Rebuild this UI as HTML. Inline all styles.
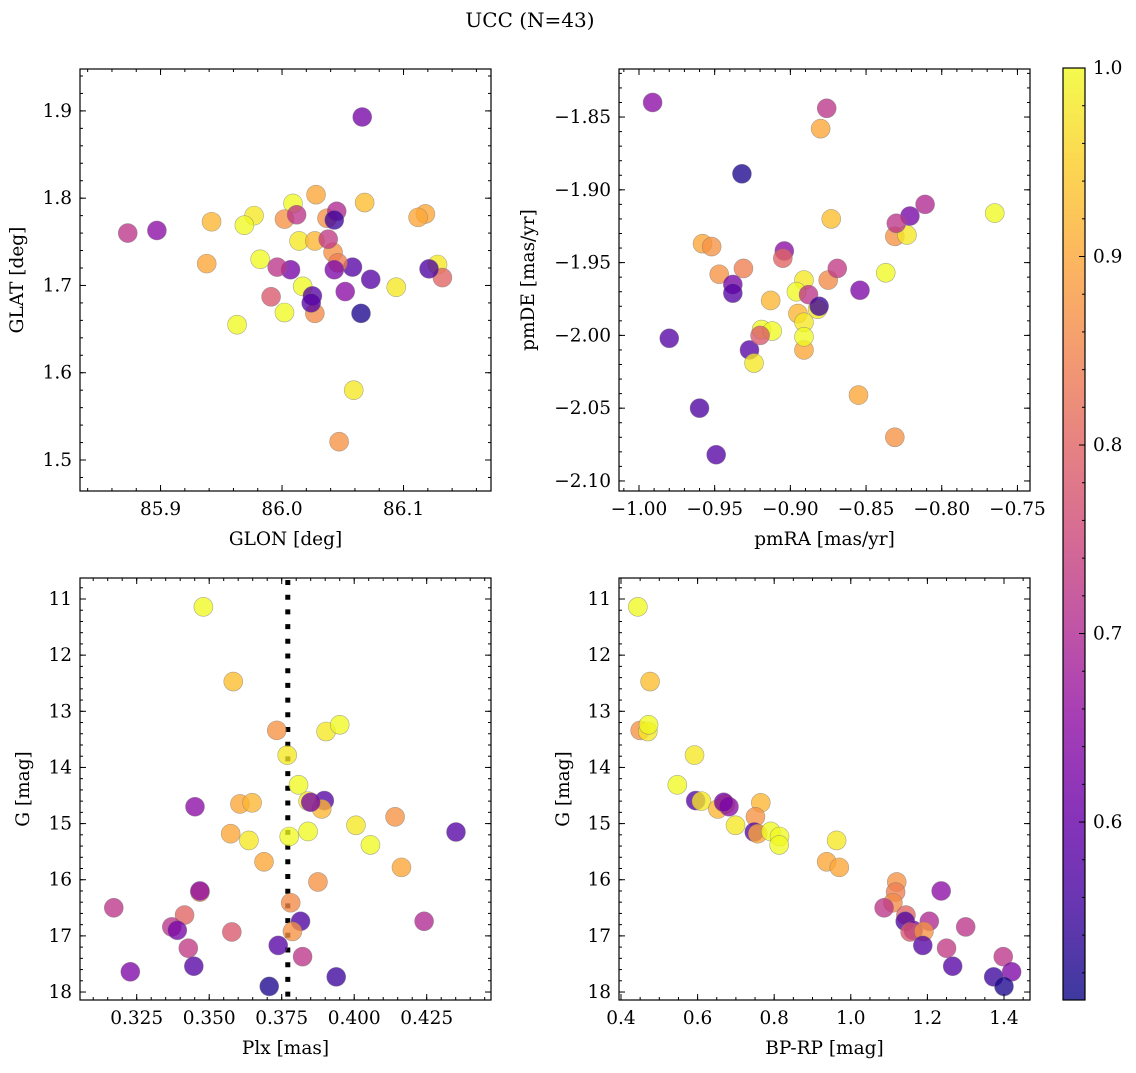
<!DOCTYPE html>
<html><head><meta charset="utf-8"><style>
html,body{margin:0;padding:0;background:#fff;}
svg text{font-family:"DejaVu Serif","Liberation Serif",serif;fill:#000;}
</style></head><body>
<svg id="fig" width="1136" height="1068" viewBox="0 0 1136 1068" xmlns="http://www.w3.org/2000/svg">
<defs>
<linearGradient id="plasma" x1="0" y1="1" x2="0" y2="0">
<stop offset="0" stop-color="#0d0887"/><stop offset="0.1" stop-color="#41049d"/><stop offset="0.2" stop-color="#6a00a8"/><stop offset="0.3" stop-color="#8f0da4"/><stop offset="0.4" stop-color="#b12a90"/><stop offset="0.5" stop-color="#cc4778"/><stop offset="0.6" stop-color="#e16462"/><stop offset="0.7" stop-color="#f2844b"/><stop offset="0.8" stop-color="#fca636"/><stop offset="0.9" stop-color="#fcce25"/><stop offset="1" stop-color="#f0f921"/>
</linearGradient>
</defs>
<text x="530" y="27" font-size="20" text-anchor="middle">UCC (N=43)</text>
</svg>
<script>
const glon=[86.009,86.068,86.002,85.977,85.969,86.014,85.982,86.058,86.128,86.118,85.942,86.027,86.052,86.066,86.037,86.094,86.073,85.938,86.017,86.002,85.963,86.059,86.028,86.112,86.042,86.046,85.897,86.027,86.012,86.132,86.121,86.045,85.873,86.007,85.991,86.047,86.025,86.038,85.996,86.024,86.043,86.043,86.065];
const glat=[1.794,1.795,1.776,1.780,1.769,1.751,1.730,1.721,1.724,1.782,1.773,1.751,1.693,1.893,1.777,1.698,1.707,1.725,1.699,1.669,1.655,1.580,1.804,1.778,1.738,1.726,1.763,1.668,1.781,1.709,1.719,1.785,1.760,1.718,1.687,1.521,1.688,1.753,1.721,1.680,1.718,1.775,1.668];
const pmra=[-0.765,-0.873,-0.831,-0.823,-0.837,-0.891,-0.896,-0.980,-0.882,-0.958,-0.913,-0.895,-0.991,-0.821,-0.952,-0.891,-0.927,-0.891,-0.919,-0.912,-0.891,-0.924,-0.855,-0.880,-0.947,-0.931,-0.904,-0.875,-0.876,-0.905,-0.960,-0.811,-0.830,-0.938,-0.920,-0.831,-0.949,-0.869,-0.888,-0.938,-0.854,-0.881,-0.932];
const pmde=[-1.916,-1.920,-1.932,-1.931,-1.957,-1.962,-1.970,-2.002,-1.982,-1.937,-1.976,-1.985,-1.840,-1.918,-1.939,-1.991,-2.010,-2.010,-1.996,-1.997,-2.001,-2.019,-2.041,-1.858,-1.958,-1.954,-1.942,-1.962,-1.844,-1.947,-2.050,-1.910,-1.923,-1.965,-2.000,-2.070,-2.082,-1.954,-1.972,-1.971,-1.969,-1.980,-1.889];
const plx=[0.3480,0.3583,0.3733,0.3903,0.3950,0.3769,0.3808,0.3897,0.3841,0.3606,0.3888,0.3648,0.3451,0.3850,0.4141,0.4006,0.4351,0.3574,0.3841,0.3776,0.4056,0.3637,0.3689,0.4163,0.3875,0.3468,0.3468,0.3781,0.3171,0.3415,0.3815,0.4241,0.3371,0.3390,0.3578,0.3787,0.3738,0.3428,0.3822,0.3447,0.3228,0.3938,0.3707];
const gmag=[11.14,12.47,13.34,13.36,13.24,13.78,14.31,14.59,14.60,14.65,14.74,14.63,14.70,14.62,14.88,15.03,15.15,15.18,15.14,15.23,15.38,15.30,15.68,15.78,16.04,16.22,16.20,16.41,16.50,16.63,16.74,16.74,16.84,16.90,16.93,16.92,17.17,17.22,17.37,17.54,17.64,17.73,17.90];
const bprp=[0.444,0.476,0.450,0.470,0.472,0.592,0.547,0.595,0.610,0.672,0.653,0.765,0.682,0.668,0.751,0.699,0.748,0.757,0.791,0.814,0.813,0.963,0.937,0.970,1.120,1.117,1.236,1.110,1.087,1.144,1.142,1.205,1.300,1.163,1.155,1.191,1.188,1.250,1.398,1.266,1.420,1.373,1.400];
const prob=[1.0,0.93,0.87,0.98,1.0,0.98,1.0,0.58,0.98,0.9,0.92,0.92,0.65,0.62,0.87,0.98,0.58,0.9,1.0,1.0,1.0,0.98,0.9,0.9,0.87,0.84,0.65,0.86,0.72,0.8,0.57,0.7,0.72,0.62,0.78,0.87,0.58,0.73,0.72,0.58,0.63,0.55,0.52];
const plxLine=[0.3771];
const cbTicks=[0.6,0.7,0.8,0.9,1.0];
const cbLabels=["0.6","0.7","0.8","0.9","1.0"];

const NS="http://www.w3.org/2000/svg";
const svg=document.getElementById('fig');
const FS=18.5;
function mk(tag,attrs,parent){const e=document.createElementNS(NS,tag);for(const k in attrs)e.setAttribute(k,attrs[k]);(parent||svg).appendChild(e);return e;}
const stops=[[13,8,135],[65,4,157],[106,0,168],[143,13,164],[177,42,144],[204,71,120],[225,100,98],[242,132,75],[252,166,54],[252,206,37],[240,249,33]];
const vmin=0.5056,vmax=1.0;
function plasma(v){let t=(v-vmin)/(vmax-vmin);t=Math.max(0,Math.min(1,t))*10;const i=Math.min(9,Math.floor(t)),f=t-i;const a=stops[i],b=stops[i+1];return `rgb(${a.map((c,j)=>Math.round(c+(b[j]-c)*f)).join(',')})`;}

function panel(cfg){
  const g=mk('g',{});
  
  
  const {x0,x1,y0,y1}=cfg.box;
  const sx=v=>x0+(v-cfg.xd[0])/(cfg.xd[1]-cfg.xd[0])*(x1-x0);
  const sy=v=>cfg.yinv? y0+(v-cfg.yd[0])/(cfg.yd[1]-cfg.yd[0])*(y1-y0) : y1-(v-cfg.yd[0])/(cfg.yd[1]-cfg.yd[0])*(y1-y0);
  if(cfg.vline){
    const ln=mk('line',{x1:sx(cfg.vline[0]),x2:sx(cfg.vline[0]),y1:y0+2,y2:y1,stroke:'#000','stroke-width':5,'stroke-dasharray':'5 9.7'},g);
    
    
  }
  for(let i=0;i<cfg.xs.length;i++){
    const c=mk('circle',{cx:sx(cfg.xs[i]).toFixed(2),cy:sy(cfg.ys[i]).toFixed(2),r:9.5,fill:plasma(prob[i]),'fill-opacity':0.78,stroke:'#777','stroke-opacity':0.6,'stroke-width':0.6},g);
    
    
  }
  const tg=mk('g',{stroke:'#000','stroke-width':1},g);
  const eps=1e-9;
  function rng(d,step){const a=[];const lo=Math.min(d[0],d[1]),hi=Math.max(d[0],d[1]);for(let v=Math.ceil(lo/step-eps)*step;v<=hi+eps;v+=step)a.push(v);return a;}
  rng(cfg.xd,cfg.xminor).forEach(v=>{const X=sx(v);mk('line',{x1:X,x2:X,y1:y1,y2:y1-3},tg);mk('line',{x1:X,x2:X,y1:y0,y2:y0+3},tg);});
  rng(cfg.yd,cfg.yminor).forEach(v=>{const Y=sy(v);mk('line',{x1:x0,x2:x0+3,y1:Y,y2:Y},tg);mk('line',{x1:x1,x2:x1-3,y1:Y,y2:Y},tg);});
  cfg.xt.forEach((v,i)=>{const X=sx(v);mk('line',{x1:X,x2:X,y1:y1,y2:y1-6},tg);mk('line',{x1:X,x2:X,y1:y0,y2:y0+6},tg);
    const t=mk('text',{x:X,y:y1+24,'font-size':FS,'text-anchor':'middle'},g);t.textContent=cfg.xl[i];
    
    });
  cfg.yt.forEach((v,i)=>{const Y=sy(v);mk('line',{x1:x0,x2:x0+6,y1:Y,y2:Y},tg);mk('line',{x1:x1,x2:x1-6,y1:Y,y2:Y},tg);
    const t=mk('text',{x:x0-8,y:Y+6,'font-size':FS,'text-anchor':'end'},g);t.textContent=cfg.yl[i];
    
    });
  const fr=mk('rect',{x:x0,y:y0,width:x1-x0,height:y1-y0,fill:'none',stroke:'#000','stroke-width':1.2},g);
  
  
  const xt=mk('text',{x:(x0+x1)/2,y:y1+54,'font-size':FS,'text-anchor':'middle'},g);xt.textContent=cfg.xlabel;
  
  
  const yx=cfg.ylx, yy=(y0+y1)/2;
  const yt=mk('text',{x:yx,y:yy,'font-size':FS,'text-anchor':'middle',transform:`rotate(-90 ${yx} ${yy})`},g);yt.textContent=cfg.ylabel;
  
  
}
const glonTicks=[85.9,86.0,86.1], glonLabels=["85.9","86.0","86.1"];
const glatTicks=[1.5,1.6,1.7,1.8,1.9], glatLabels=["1.5","1.6","1.7","1.8","1.9"];
const pmraTicks=[-1.0,-0.95,-0.9,-0.85,-0.8,-0.75], pmraLabels=["\u22121.00","\u22120.95","\u22120.90","\u22120.85","\u22120.80","\u22120.75"];
const pmdeTicks=[-2.1,-2.05,-2.0,-1.95,-1.9,-1.85], pmdeLabels=["\u22122.10","\u22122.05","\u22122.00","\u22121.95","\u22121.90","\u22121.85"];
const plxTicks=[0.325,0.35,0.375,0.4,0.425], plxLabels=["0.325","0.350","0.375","0.400","0.425"];
const gTicks=[11,12,13,14,15,16,17,18], gLabels=["11","12","13","14","15","16","17","18"];
const bpTicks=[0.4,0.6,0.8,1.0,1.2,1.4], bpLabels=["0.4","0.6","0.8","1.0","1.2","1.4"];

panel({name:'glon-glat-panel',box:{x0:80,x1:491,y0:69,y1:491},xd:[85.8337,86.172],yd:[1.4645,1.948],xs:glon,ys:glat,xt:glonTicks,xl:glonLabels,yt:glatTicks,yl:glatLabels,xminor:0.02,yminor:0.02,xlabel:'GLON [deg]',ylabel:'GLAT [deg]',ylx:23});
panel({name:'pm-panel',box:{x0:619,x1:1030,y0:69,y1:491},xd:[-1.0132,-0.7417],yd:[-2.1069,-1.8170],xs:pmra,ys:pmde,xt:pmraTicks,xl:pmraLabels,yt:pmdeTicks,yl:pmdeLabels,xminor:0.01,yminor:0.01,xlabel:'pmRA [mas/yr]',ylabel:'pmDE [mas/yr]',ylx:534});
panel({name:'plx-g-panel',box:{x0:80,x1:491,y0:578,y1:1000},xd:[0.30545,0.44717],yd:[10.626,18.142],yinv:true,xs:plx,ys:gmag,xt:plxTicks,xl:plxLabels,yt:gTicks,yl:gLabels,xminor:0.005,yminor:0.2,xlabel:'Plx [mas]',ylabel:'G [mag]',ylx:29,vline:plxLine});
panel({name:'cmd-panel',box:{x0:619,x1:1030,y0:578,y1:1000},xd:[0.3948,1.4679],yd:[10.626,18.142],yinv:true,xs:bprp,ys:gmag,xt:bpTicks,xl:bpLabels,yt:gTicks,yl:gLabels,xminor:0.05,yminor:0.2,xlabel:'BP-RP [mag]',ylabel:'G [mag]',ylx:569});

const cb=mk('g',{});


const cy0=68,cy1=1000,cx0=1063,cx1=1085;
mk('rect',{x:cx0,y:cy0,width:cx1-cx0,height:cy1-cy0,fill:'url(#plasma)','fill-opacity':0.8},cb);
mk('rect',{x:cx0,y:cy0,width:cx1-cx0,height:cy1-cy0,fill:'none',stroke:'#000','stroke-width':1.2},cb);
const cby=v=>cy1-(v-vmin)/(vmax-vmin)*(cy1-cy0);
for(let v=0.52;v<=1.0001;v+=0.02){const Y=cby(v);mk('line',{x1:cx1,x2:cx1-3,y1:Y,y2:Y,stroke:'#000'},cb);}
cbTicks.forEach((v,i)=>{const Y=cby(v);mk('line',{x1:cx1,x2:cx1-6,y1:Y,y2:Y,stroke:'#000'},cb);
  const t=mk('text',{x:cx1+8,y:Y+6,'font-size':FS},cb);t.textContent=cbLabels[i];
  
  });
</script>
</body></html>
